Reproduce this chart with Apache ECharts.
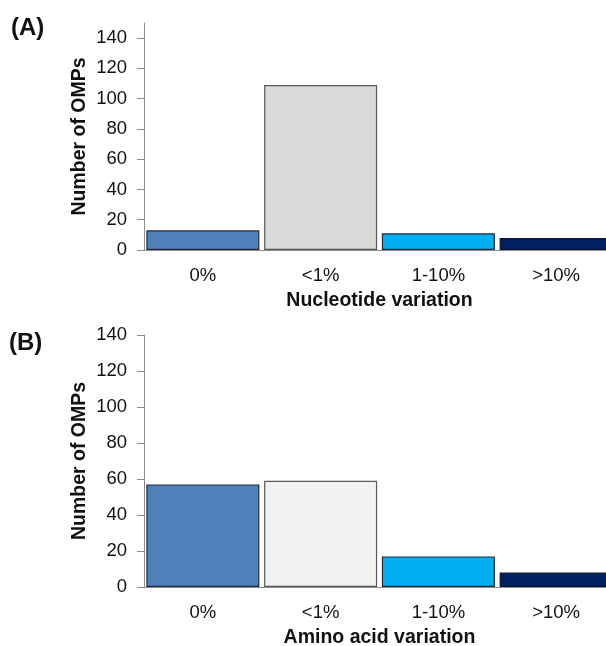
<!DOCTYPE html>
<html>
<head>
<meta charset="utf-8">
<title>OMP variation</title>
<script src="https://cdn.jsdelivr.net/npm/echarts@6/dist/echarts.min.js"></script>
<style>
  html, body { margin: 0; padding: 0; background: #ffffff; }
  #chart { width: 606px; height: 646px; }
</style>
</head>
<body>
<div id="chart"></div>
<script>
// Variation classes shared by both panels
const categories = ['0%', '<1%', '1-10%', '>10%'];

// Number of OMPs per class
const nucleotideCounts = [13, 109, 11, 8];
const aminoAcidCounts = [57, 59, 17, 8];

// Y-axis tick labels
const yTicks = [0, 20, 40, 60, 80, 100, 120, 140];

// Bar fills per class (panel A / panel B differ only in the <1% shade)
const fillsA = ['#4F81BD', '#D9D9D9', '#00B0F0', '#002060'];
const fillsB = ['#4F81BD', '#F2F2F2', '#00B0F0', '#002060'];
const borders = ['#1f2a3a', '#5a5a5a', '#1f2a3a', '#0b1430'];

const FONT = '"Liberation Sans", Arial, sans-serif';
const AXIS_GREY = '#8c8c8c';
const TEXT = '#111111';

function barData(values, fills) {
  return values.map((v, i) => ({
    value: v,
    itemStyle: { color: fills[i], borderColor: borders[i], borderWidth: 1.2 }
  }));
}

function xAxis(gridIndex, name) {
  return {
    type: 'category',
    gridIndex: gridIndex,
    data: categories,
    name: name,
    nameLocation: 'middle',
    nameGap: 41,
    nameMoveOverlap: false,
    nameTextStyle: { fontFamily: FONT, fontSize: 19.5, fontWeight: 'bold', color: TEXT },
    axisLine: { show: true, lineStyle: { color: AXIS_GREY, width: 1 } },
    axisTick: { show: false },
    axisLabel: { fontFamily: FONT, fontSize: 18.5, color: TEXT, margin: 16 },
    splitLine: { show: false }
  };
}

function yAxis(gridIndex, max) {
  return {
    type: 'value',
    gridIndex: gridIndex,
    min: 0,
    max: max,
    interval: 20,
    name: 'Number of OMPs',
    nameLocation: 'middle',
    nameGap: 54,
    nameMoveOverlap: false,
    nameTextStyle: { fontFamily: FONT, fontSize: 19.5, fontWeight: 'bold', color: TEXT },
    axisLine: { show: true, lineStyle: { color: AXIS_GREY, width: 1 } },
    axisTick: { show: true, length: 7, inside: false, customValues: yTicks,
                lineStyle: { color: AXIS_GREY, width: 1 } },
    axisLabel: { fontFamily: FONT, fontSize: 18.5, color: TEXT, margin: 17, customValues: yTicks },
    splitLine: { show: false }
  };
}

const chart = echarts.init(document.getElementById('chart'), null, { renderer: 'canvas' });

chart.setOption({
  backgroundColor: '#ffffff',
  animation: false,
  title: [
    { text: '(A)', left: 11, top: 16, padding: 0,
      textStyle: { fontFamily: FONT, fontSize: 24, fontWeight: 'bold', color: TEXT } },
    { text: '(B)', left: 9, top: 331, padding: 0,
      textStyle: { fontFamily: FONT, fontSize: 24, fontWeight: 'bold', color: TEXT } }
  ],
  // the plot runs a few pixels past the right edge of the canvas
  grid: [
    { left: 144, width: 471, top: 23, height: 227, outerBoundsMode: 'none' },
    { left: 144, width: 471, top: 335, height: 252, outerBoundsMode: 'none' }
  ],
  xAxis: [
    xAxis(0, 'Nucleotide variation'),
    xAxis(1, 'Amino acid variation')
  ],
  yAxis: [
    yAxis(0, 150),
    yAxis(1, 140)
  ],
  series: [
    {
      type: 'bar', xAxisIndex: 0, yAxisIndex: 0,
      barCategoryGap: '4%',
      data: barData(nucleotideCounts, fillsA)
    },
    {
      type: 'bar', xAxisIndex: 1, yAxisIndex: 1,
      barCategoryGap: '4%',
      data: barData(aminoAcidCounts, fillsB)
    }
  ]
});
</script>
</body>
</html>
